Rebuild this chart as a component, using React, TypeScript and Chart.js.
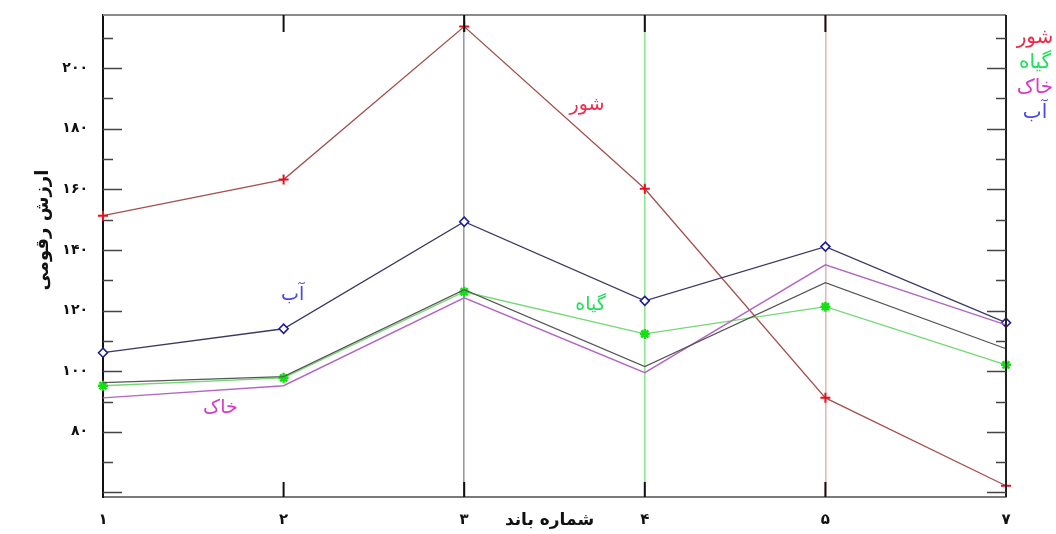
import React, { useEffect, useRef } from 'react';
import { Chart, registerables } from 'chart.js';

Chart.register(...registerables);

// band numbers on the x axis (there is no band 6 in the source)
const bandLabels = ['۱', '۲', '۳', '۴', '۵', '۷'];

// digital values
const shorValues = [151.3, 163.2, 213.7, 160.2, 91.2, 62.2];
const giahValues = [95.2, 97.8, 126.2, 112.3, 121.3, 102.1];
const khakValues = [91.2, 95.2, 124.2, 99.5, 135.1, 115.3];
const abValues = [106.1, 114.0, 149.3, 123.2, 141.1, 116.0];
const greyValues = [96.2, 98.2, 126.9, 101.5, 129.2, 107.4];

const legendNames = ['شور', 'گیاه', 'خاک', 'آب'];
const legendColors = ['#ee2a48', '#1fe05a', '#d43cc4', '#4a48e6'];

// in-plot captions: [band index, value, text, colour]
const captions: Array<[number, number, string, string]> = [
  [2.68, 187.9, 'شور', '#ee2a48'],
  [1.05, 125.2, 'آب', '#4a48e6'],
  [2.7, 121.9, 'گیاه', '#1fe05a'],
  [0.65, 87.9, 'خاک', '#d43cc4'],
];

// colour of the vertical guide line at each band (transparent = none)
const bandLineColors = ['rgba(0,0,0,0)', 'rgba(0,0,0,0)', '#9a9aa6', '#8fe88f', '#e8b8b8', 'rgba(0,0,0,0)'];

const Y_MIN = 58.5;
const Y_MAX = 217.5;
const FONT = '"DejaVu Sans", sans-serif';

const toPersian = (n: number) => String(n).replace(/\d/g, d => '۰۱۲۳۴۵۶۷۸۹'[+d]);

const framePlugin = {
  id: 'frame',
  afterDraw(chart: any) {
    const { ctx, chartArea } = chart;
    const { left, right, top, bottom } = chartArea;
    const x = chart.scales.x;
    const y = chart.scales.y;
    ctx.save();

    // top and right border
    ctx.lineWidth = 2;
    ctx.strokeStyle = '#8a8a8a';
    ctx.beginPath();
    ctx.moveTo(left, top);
    ctx.lineTo(right, top);
    ctx.stroke();
    ctx.strokeStyle = '#222';
    ctx.beginPath();
    ctx.moveTo(right, top);
    ctx.lineTo(right, bottom);
    ctx.stroke();

    // inward y ticks on both sides
    ctx.lineWidth = 1.5;
    ctx.strokeStyle = '#444';
    y.ticks.forEach((t: any) => {
      const py = Math.round(y.getPixelForValue(t.value)) + 0.5;
      const len = t.value % 20 === 0 ? 19 : 10;
      ctx.beginPath();
      ctx.moveTo(left, py);
      ctx.lineTo(left + len, py);
      ctx.moveTo(right - len, py);
      ctx.lineTo(right, py);
      ctx.stroke();
    });

    // inward x ticks top and bottom
    ctx.lineWidth = 2;
    ctx.strokeStyle = '#111';
    for (let i = 1; i < bandLabels.length - 1; i++) {
      const px = x.getPixelForValue(i);
      ctx.beginPath();
      ctx.moveTo(px, top);
      ctx.lineTo(px, top + 17);
      ctx.moveTo(px, bottom - 15);
      ctx.lineTo(px, bottom);
      ctx.stroke();
    }

    // captions inside the plot
    ctx.font = `19px ${FONT}`;
    ctx.textAlign = 'center';
    ctx.textBaseline = 'middle';
    captions.forEach(([bi, v, text, color]) => {
      ctx.fillStyle = color;
      ctx.fillText(text, x.getPixelForValue(bi), y.getPixelForValue(v));
    });

    // legend at the right
    ctx.font = `20px ${FONT}`;
    legendNames.forEach((name, i) => {
      ctx.fillStyle = legendColors[i];
      ctx.fillText(name, right + 29, top + 23 + i * 25);
    });

    // axis titles
    ctx.fillStyle = '#111';
    ctx.font = `bold 17px ${FONT}`;
    ctx.fillText('شماره باند', (left + right) / 2 - 5, bottom + 24);
    ctx.save();
    ctx.translate(43, 230);
    ctx.rotate(-Math.PI / 2);
    ctx.font = `bold 18px ${FONT}`;
    ctx.fillText('ارزش رقومی', 0, 0);
    ctx.restore();

    ctx.restore();
  },
};

const App: React.FC = () => {
  const canvasRef = useRef<HTMLCanvasElement>(null);

  useEffect(() => {
    if (!canvasRef.current) return;

    const chart = new Chart(canvasRef.current, {
      type: 'line',
      data: {
        labels: bandLabels,
        datasets: [
          {
            label: 'میانگین',
            data: greyValues,
            borderColor: '#555555',
            borderWidth: 1.3,
            pointRadius: 0,
          },
          {
            label: 'خاک',
            data: khakValues,
            borderColor: '#b466c4',
            borderWidth: 1.4,
            pointRadius: 0,
          },
          {
            label: 'گیاه',
            data: giahValues,
            borderColor: '#74d874',
            borderWidth: 1.3,
            pointStyle: 'star',
            pointRadius: 5,
            pointBorderColor: '#14e014',
            pointBorderWidth: 2.5,
          },
          {
            label: 'آب',
            data: abValues,
            borderColor: '#3a3a62',
            borderWidth: 1.3,
            pointStyle: 'rectRot',
            pointRadius: 4.5,
            pointBorderColor: '#1c1c9a',
            pointBackgroundColor: '#ffffff',
            pointBorderWidth: 1.6,
          },
          {
            label: 'شور',
            data: shorValues,
            borderColor: '#a4504c',
            borderWidth: 1.3,
            pointStyle: 'cross',
            pointRadius: 5,
            pointBorderColor: '#e6101e',
            pointBorderWidth: 2,
          },
        ],
      },
      options: {
        responsive: true,
        maintainAspectRatio: false,
        animation: false,
        layout: { padding: { top: 15, right: 50, left: 0, bottom: 0 } },
        elements: { line: { tension: 0 } },
        scales: {
          x: {
            type: 'category',
            offset: false,
            grid: {
              color: (c: any) => bandLineColors[c.index] ?? 'rgba(0,0,0,0)',
              lineWidth: 1.6,
              drawTicks: false,
            },
            border: { color: '#7a7a7a', width: 2 },
            ticks: {
              padding: 14,
              color: '#111',
              font: { family: FONT, size: 15, weight: 'bold' },
              maxRotation: 0,
            },
            afterFit: (s: any) => {
              s.height = 37;
              s.paddingLeft = 0;
              s.paddingRight = 0;
            },
          },
          y: {
            min: Y_MIN,
            max: Y_MAX,
            grid: { display: false, drawTicks: false },
            border: { color: '#111', width: 2 },
            afterBuildTicks: (s: any) => {
              const t = [];
              for (let v = 60; v <= 215; v += 5) t.push({ value: v });
              s.ticks = t;
            },
            ticks: {
              padding: 15,
              color: '#111',
              font: { family: FONT, size: 14, weight: 'bold' },
              callback: (v: any) => (v % 20 === 0 && v >= 80 && v <= 200 ? toPersian(v) : ''),
            },
            afterFit: (s: any) => {
              s.width = 103;
              s.paddingTop = 0;
              s.paddingBottom = 0;
            },
          },
        },
        plugins: {
          legend: { display: false },
          tooltip: { enabled: false },
        },
      },
      plugins: [framePlugin],
    });

    return () => {
      chart.destroy();
    };
  }, []);

  return (
    <div style={{ position: 'absolute', left: 0, top: 0, width: 1056, height: 534, background: '#fff' }}>
      <canvas ref={canvasRef}></canvas>
    </div>
  );
};

export default App;
